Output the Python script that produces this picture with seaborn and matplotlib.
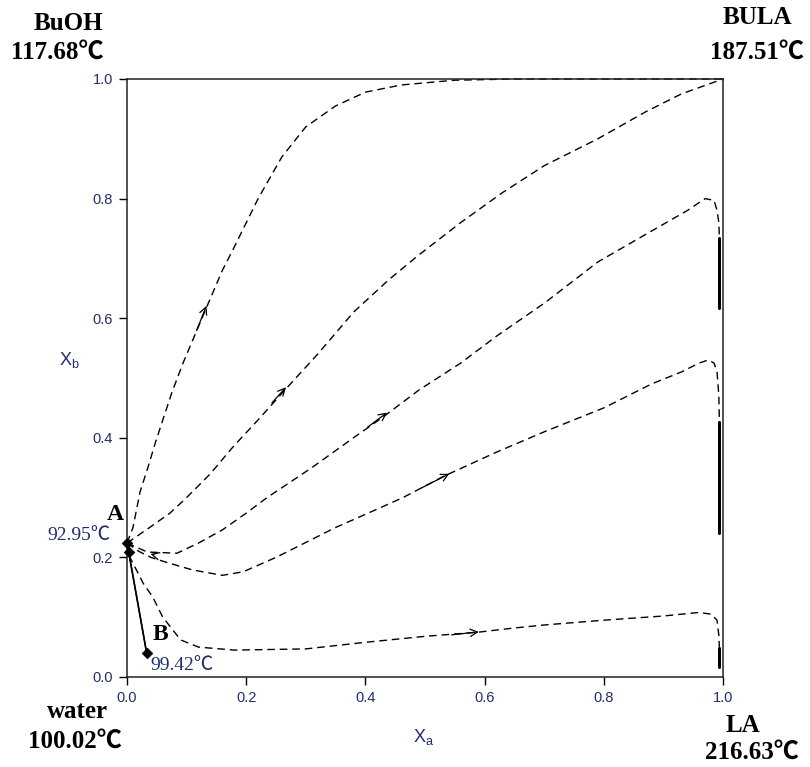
import matplotlib
matplotlib.use("Agg")
import matplotlib.pyplot as plt
import seaborn as sns
import pandas as pd

# ---------------- data ----------------
c1_x = [0.0, 0.01, 0.022, 0.035, 0.047, 0.075, 0.094, 0.13, 0.16, 0.178, 0.22, 0.26, 0.30, 0.35, 0.40, 0.46, 0.55, 0.65, 0.80, 1.0]
c1_y = [0.224, 0.25, 0.31, 0.35, 0.39, 0.475, 0.525, 0.61, 0.68, 0.715, 0.80, 0.87, 0.92, 0.955, 0.978, 0.99, 0.998, 1.0, 1.0, 1.0]

c2_x = [0.0, 0.038, 0.072, 0.10, 0.14, 0.178, 0.22, 0.265, 0.32, 0.38, 0.44, 0.49, 0.56, 0.63, 0.70, 0.79, 0.87, 0.93, 1.0]
c2_y = [0.224, 0.25, 0.274, 0.30, 0.34, 0.385, 0.43, 0.48, 0.54, 0.61, 0.665, 0.706, 0.76, 0.81, 0.855, 0.90, 0.945, 0.975, 1.0]

c3_x = [0.0, 0.034, 0.084, 0.12, 0.16, 0.20, 0.235, 0.31, 0.38, 0.43, 0.49, 0.56, 0.62, 0.70, 0.79, 0.87, 0.94, 0.97, 0.985, 0.99, 0.993, 0.994]
c3_y = [0.224, 0.209, 0.207, 0.224, 0.246, 0.274, 0.30, 0.35, 0.40, 0.435, 0.48, 0.525, 0.57, 0.625, 0.694, 0.74, 0.78, 0.80, 0.797, 0.78, 0.76, 0.734]
c3_solid_y = [0.734, 0.617]

c4_x = [0.0, 0.02, 0.04, 0.072, 0.11, 0.16, 0.195, 0.25, 0.30, 0.35, 0.40, 0.463, 0.53, 0.62, 0.70, 0.80, 0.88, 0.93, 0.96, 0.975, 0.985, 0.99, 0.993, 0.994]
c4_y = [0.224, 0.21, 0.20, 0.19, 0.179, 0.17, 0.176, 0.20, 0.225, 0.25, 0.272, 0.30, 0.335, 0.376, 0.41, 0.45, 0.49, 0.51, 0.525, 0.53, 0.525, 0.51, 0.47, 0.426]
c4_solid_y = [0.426, 0.24]

c5_x = [0.0, 0.005, 0.027, 0.043, 0.06, 0.09, 0.12, 0.18, 0.30, 0.40, 0.50, 0.59, 0.65, 0.70, 0.80, 0.90, 0.96, 0.98, 0.99, 0.993, 0.994]
c5_y = [0.224, 0.20, 0.157, 0.134, 0.10, 0.062, 0.05, 0.045, 0.047, 0.058, 0.068, 0.075, 0.082, 0.087, 0.095, 0.102, 0.108, 0.105, 0.095, 0.07, 0.048]
c5_solid_y = [0.048, 0.017]

edge_x = 0.994

# tie line A - B
tie1_x = [0.0, 0.033]
tie1_y = [0.224, 0.04]
tie2_x = [0.003, 0.033]
tie2_y = [0.209, 0.04]
pts_x = [0.0, 0.003, 0.033]
pts_y = [0.224, 0.209, 0.04]

# arrows: (tail, tip) on the curves
arrow_tail = [(0.115, 0.575), (0.24, 0.455), (0.40, 0.415), (0.49, 0.314), (0.54, 0.070), (0.05, 0.203)]
arrow_tip = [(0.135, 0.625), (0.27, 0.488), (0.44, 0.445), (0.545, 0.342), (0.595, 0.076), (0.035, 0.207)]

ticks = [0.0, 0.2, 0.4, 0.6, 0.8, 1.0]
tick_labels = ["0.0", "0.2", "0.4", "0.6", "0.8", "1.0"]

# ---------------- plotting ----------------
sns.set_theme(style="white")
plt.rcParams["font.family"] = ["Liberation Sans", "DejaVu Sans"]

navy = "#1f2d6e"
fig = plt.figure(figsize=(8.1, 7.67), dpi=100)
ax = fig.add_axes([127 / 810, 1 - 677 / 767, 596 / 810, 598 / 767])

dash = (5.5, 3.5)
for cx, cy in [(c1_x, c1_y), (c2_x, c2_y), (c3_x, c3_y), (c4_x, c4_y), (c5_x, c5_y)]:
    df = pd.DataFrame({"x": cx, "y": cy})
    sns.lineplot(data=df, x="x", y="y", sort=False, estimator=None, color="black",
                 lw=1.0, ax=ax, clip_on=False)
    ax.lines[-1].set_dashes(dash)

for sy in [c3_solid_y, c4_solid_y, c5_solid_y]:
    df = pd.DataFrame({"x": [edge_x] * len(sy), "y": sy})
    sns.lineplot(data=df, x="x", y="y", sort=False, estimator=None, color="black",
                 lw=2.2, ax=ax)

for tx, ty in [(tie1_x, tie1_y), (tie2_x, tie2_y)]:
    sns.lineplot(x=tx, y=ty, sort=False, estimator=None, color="black", lw=1.1, ax=ax)

sns.scatterplot(x=pts_x, y=pts_y, marker="D", s=30, color="black", edgecolor="black",
                ax=ax, clip_on=False, zorder=5)

for (x0, y0), (x1, y1) in zip(arrow_tail, arrow_tip):
    ax.annotate("", xy=(x1, y1), xytext=(x0, y0),
                arrowprops=dict(arrowstyle="->", lw=0.9, color="black", mutation_scale=13))

ax.set_xlim(0, 1)
ax.set_ylim(0, 1)
ax.set_xticks(ticks)
ax.set_yticks(ticks)
ax.set_xticklabels(tick_labels)
ax.set_yticklabels(tick_labels)
ax.tick_params(axis="both", which="both", direction="out", length=6, width=1.0,
               colors="black", labelcolor=navy, labelsize=10.5, pad=4,
               bottom=True, left=True, top=False, right=False)
for sp in ax.spines.values():
    sp.set_visible(True)
    sp.set_color("#222222")
    sp.set_linewidth(1.1)

ax.set_xlabel(r"X$_\mathregular{a}$", fontsize=13, color=navy)
ax.set_ylabel(r"X$_\mathregular{b}$", fontsize=13, color=navy, rotation=0)
ax.xaxis.set_label_coords(0.497, -0.10)
ax.yaxis.set_label_coords(-0.096, 0.53)
ax.xaxis.label.set_va("center")
ax.yaxis.label.set_va("center")

serif = ["Liberation Serif", "Noto Sans CJK SC", "DejaVu Serif"]

def ftext(px, py, s, size, bold=True, color="black", ha="center"):
    fig.text(px / 810, 1 - py / 767, s, fontsize=size, family=serif,
             fontweight="bold" if bold else "normal", color=color, ha=ha, va="center")

ftext(68, 24, "BuOH", 18)
ftext(57, 52, "117.68℃", 18)
ftext(757, 18, "BULA", 18)
ftext(757, 52, "187.51℃", 18)
ftext(77, 712, "water", 18)
ftext(75, 741, "100.02℃", 18)
ftext(743, 725, "LA", 18)
ftext(752, 752, "216.63℃", 18)

ftext(115, 515, "A", 17)
ftext(79, 536, "92.95℃", 14, bold=False, color=navy)
ftext(160, 635, "B", 17)
ftext(150, 666, "99.42℃", 14, bold=False, color=navy, ha="left")

fig.savefig("out.png", dpi=100)
